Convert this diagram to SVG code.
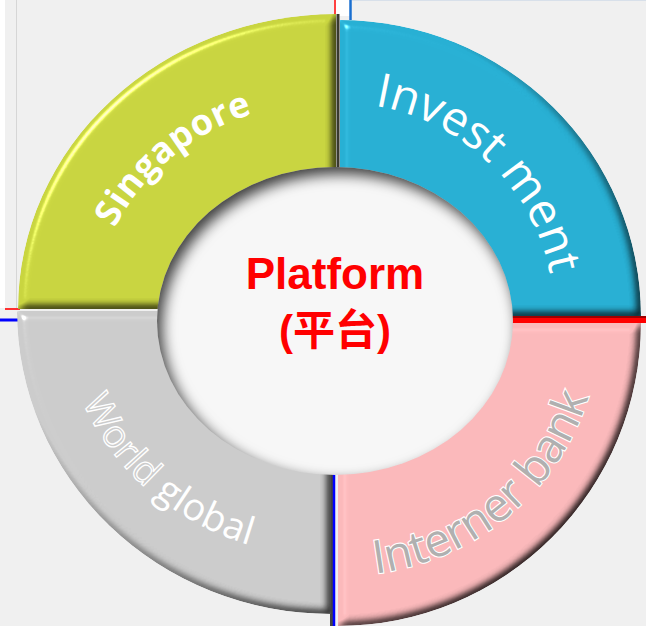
<svg xmlns="http://www.w3.org/2000/svg" xmlns:xlink="http://www.w3.org/1999/xlink" width="646" height="626" viewBox="0 0 646 626">
<style>
.lbl{font-family:"Open Sans","Liberation Sans",sans-serif;}
.title{font-family:"Liberation Sans","Noto Sans CJK SC",sans-serif;font-weight:bold;fill:#ff0000;text-anchor:middle;}
</style>
<defs>
<filter id="bevel" x="-5%" y="-5%" width="110%" height="110%" color-interpolation-filters="sRGB">
  <feGaussianBlur in="SourceAlpha" stdDeviation="4.5" result="b"/>
  <feDiffuseLighting in="b" surfaceScale="4.5" diffuseConstant="1.3" lighting-color="#ffffff" result="d">
    <feDistantLight azimuth="225" elevation="50"/>
  </feDiffuseLighting>
  <feSpecularLighting in="b" surfaceScale="4.5" specularConstant="0.55" specularExponent="90" lighting-color="#ffffff" result="s">
    <feDistantLight azimuth="225" elevation="50"/>
  </feSpecularLighting>
  <feComposite in="SourceGraphic" in2="d" operator="arithmetic" k1="1" k2="0" k3="0" k4="0" result="lit"/>
  <feComposite in="lit" in2="s" operator="arithmetic" k1="0" k2="1" k3="1" k4="0" result="shine"/>
  <feComposite in="shine" in2="SourceAlpha" operator="in"/>
</filter>
<filter id="inset" x="-10%" y="-10%" width="120%" height="120%" color-interpolation-filters="sRGB">
  <feComponentTransfer in="SourceAlpha" result="inv"><feFuncA type="table" tableValues="1 0"/></feComponentTransfer>
  <feOffset in="inv" dx="5" dy="7" result="off"/>
  <feGaussianBlur in="off" stdDeviation="7" result="blur"/>
  <feFlood flood-color="#000000" flood-opacity="0.75"/>
  <feComposite in2="blur" operator="in" result="sh"/>
  <feComposite in="sh" in2="SourceAlpha" operator="in" result="shin"/>
  <feMerge><feMergeNode in="SourceGraphic"/><feMergeNode in="shin"/></feMerge>
</filter>
<path id="pSing" d="M98.6,349.9 A240,212 0 0 1 376.7,104.2"/>
<path id="pInv" d="M280,110 A217,213 0 0 1 547.2,369"/>
<path id="pWorld" d="M72.6,249.4 A268,246 0 0 0 403.6,548.1"/>
<path id="pBank" d="M226,549 A258,252 0 0 0 587,246"/>
</defs>

<rect width="646" height="626" fill="#f0f0f0"/>
<g id="guides">
  <rect x="0" y="0" width="5" height="308" fill="#ffffff"/>
  <line x1="16.5" y1="0" x2="16.5" y2="309" stroke="#d6d6d6" stroke-width="1"/>
  <line x1="5" y1="309" x2="20" y2="309" stroke="#ff3030" stroke-width="2"/>
  <line x1="0" y1="320" x2="18" y2="320" stroke="#0000ff" stroke-width="3"/>
  <rect x="336" y="0" width="14" height="16" fill="#ffffff"/>
  <line x1="335" y1="0" x2="335" y2="15" stroke="#ff4040" stroke-width="2"/>
  <line x1="350.5" y1="0" x2="350.5" y2="20" stroke="#1a6fd0" stroke-width="2.5"/>
  <line x1="352" y1="0.5" x2="646" y2="0.5" stroke="#d8e0ea" stroke-width="1"/>
  <rect x="336.5" y="14" width="3" height="160" fill="#3a3a30"/>
  <rect x="500" y="316" width="146" height="2" fill="#a00000"/>
  <rect x="500" y="318" width="146" height="5" fill="#ff0000"/>
  <rect x="330" y="460" width="3" height="166" fill="#444444"/>
  <line x1="334" y1="460" x2="334" y2="626" stroke="#0000ff" stroke-width="2.5"/>
</g>

<g id="singapore">
  <path d="M336,309 L18,309 A318,295 0 0 1 336,14 Z" fill="#c9d540" filter="url(#bevel)"/>
  <text class="lbl" font-size="36" font-weight="bold" fill="#ffffff" letter-spacing="0.5"><textPath xlink:href="#pSing" startOffset="50%" text-anchor="middle">Singapore</textPath></text>
</g>
<g id="investment">
  <path d="M340,316 L340,20 A301,296 0 0 1 641,316 Z" fill="#28b0d4" filter="url(#bevel)"/>
  <text class="lbl" font-size="47"><textPath xlink:href="#pInv" startOffset="50%" text-anchor="middle" fill="#ffffff">Invest ment</textPath></text>
</g>
<g id="interner-bank">
  <path d="M338,323 L641,323 A303,303 0 0 1 338,626 Z" fill="#fbb9bb" filter="url(#bevel)"/>
  <text class="lbl" font-size="46" fill="#b0b0b0" stroke="#ffffff" stroke-width="2.2" paint-order="stroke"><textPath xlink:href="#pBank" startOffset="50%" text-anchor="middle">Interner bank</textPath></text>
</g>
<g id="world-global">
  <path d="M331,311 L331,614 A314,303 0 0 1 17,311 Z" fill="#cccccc" filter="url(#bevel)"/>
  <text class="lbl" font-size="38" fill="#ffffff" letter-spacing="0.3"><textPath xlink:href="#pWorld" startOffset="50%" text-anchor="middle"><tspan fill="#cccccc" stroke="#ffffff" stroke-width="1.3">World</tspan> global</textPath></text>
</g>
<g id="platform">
  <ellipse cx="335" cy="321" rx="178" ry="154" fill="#f7f7f7" filter="url(#inset)"/>
  <text class="title" x="335" y="289" font-size="44">Platform</text>
  <text class="title" x="335" y="345" font-size="42">(平台)</text>
</g>
</svg>
